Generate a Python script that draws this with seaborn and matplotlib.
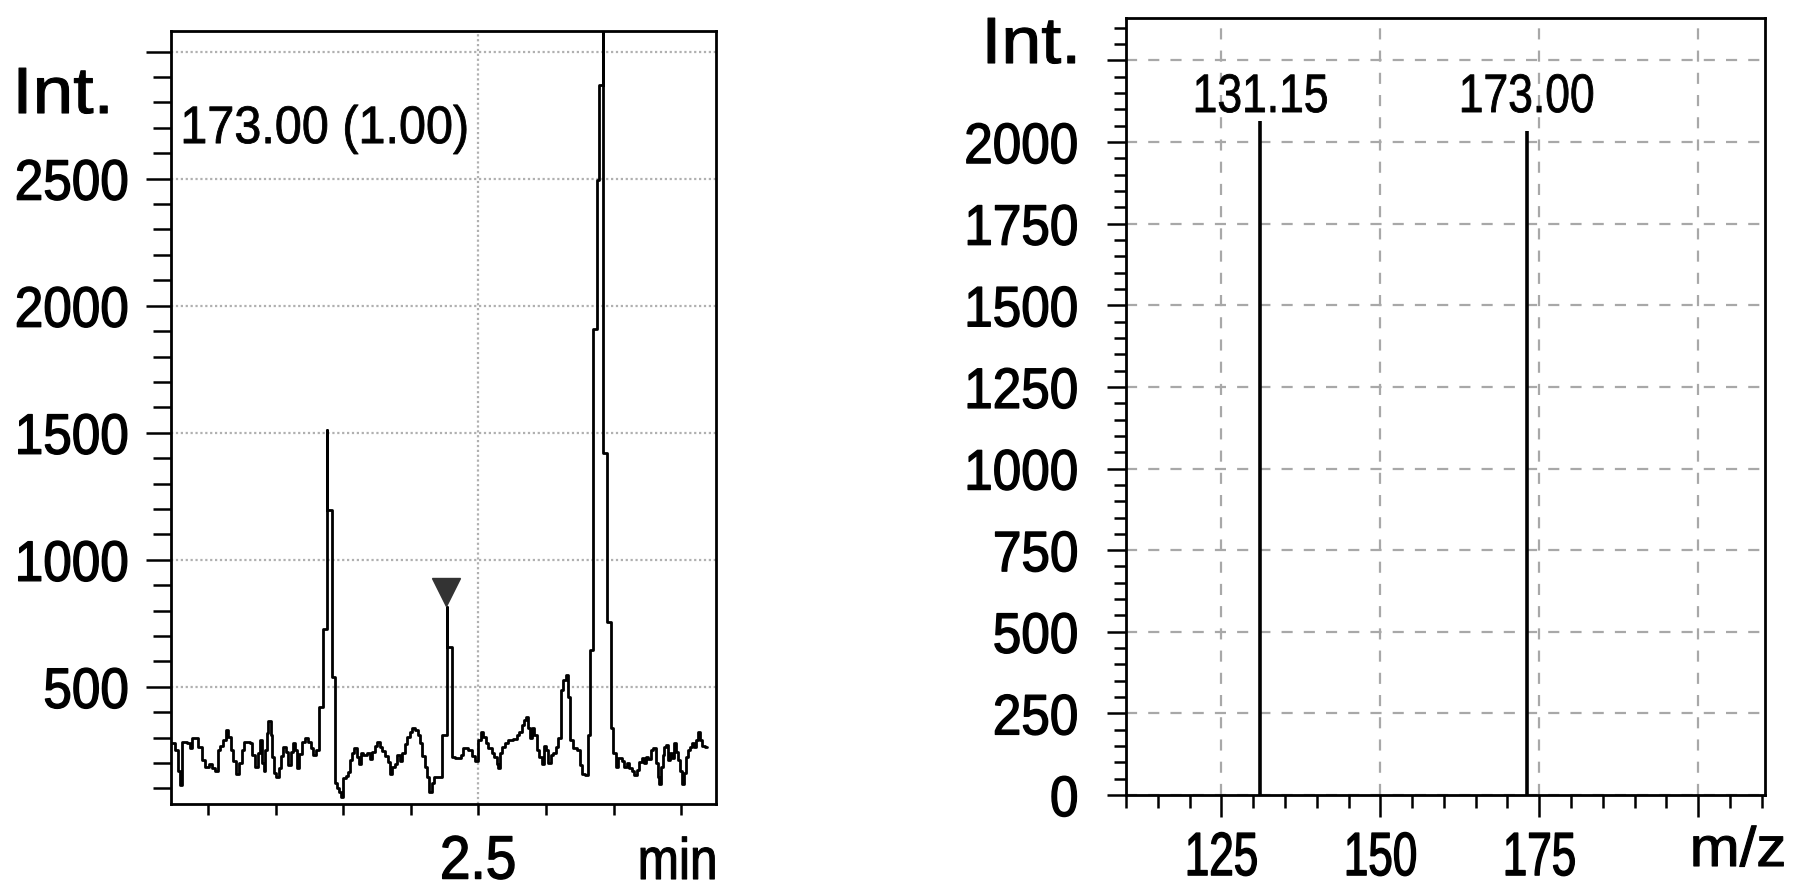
import numpy as np
import pandas as pd
import matplotlib
matplotlib.use("Agg")
import matplotlib.pyplot as plt
import seaborn as sns
from matplotlib import patheffects
from matplotlib.transforms import Affine2D

# chromatogram (m/z 173.00)
chrom_time = [
    2.0464, 2.0513, 2.0553, 2.0587, 2.0622, 2.0686, 2.0735, 2.0770, 2.0859, 2.0908,
    2.0957, 2.1016, 2.1066, 2.1105, 2.1145, 2.1184, 2.1228, 2.1263, 2.1302, 2.1342,
    2.1376, 2.1416, 2.1460, 2.1500, 2.1539, 2.1623, 2.1657, 2.1697, 2.1736, 2.1766,
    2.1795, 2.1825, 2.1850, 2.1869, 2.1894, 2.1933, 2.1953, 2.1983, 2.2012, 2.2047,
    2.2081, 2.2116, 2.2155, 2.2190, 2.2225, 2.2254, 2.2289, 2.2313, 2.2348, 2.2387,
    2.2436, 2.2486, 2.2525, 2.2560, 2.2600, 2.2644, 2.2707, 2.2757, 2.2762, 2.2831,
    2.2875, 2.2905, 2.2939, 2.2969, 2.3004, 2.3038, 2.3068, 2.3102, 2.3137, 2.3166,
    2.3201, 2.3235, 2.3260, 2.3299, 2.3349, 2.3398, 2.3433, 2.3473, 2.3507, 2.3542,
    2.3581, 2.3620, 2.3659, 2.3694, 2.3729, 2.3768, 2.3803, 2.3837, 2.3876, 2.3916,
    2.3950, 2.3990, 2.4024, 2.4064, 2.4103, 2.4138, 2.4172, 2.4212, 2.4241, 2.4271,
    2.4310, 2.4340, 2.4468, 2.4533, 2.4538, 2.4610, 2.4655, 2.4744, 2.4779, 2.4853,
    2.4902, 2.4952, 2.5001, 2.5035, 2.5075, 2.5109, 2.5149, 2.5198, 2.5237, 2.5272,
    2.5296, 2.5321, 2.5355, 2.5395, 2.5444, 2.5518, 2.5567, 2.5602, 2.5642, 2.5676,
    2.5701, 2.5730, 2.5765, 2.5799, 2.5829, 2.5864, 2.5898, 2.5937, 2.5972, 2.6001,
    2.6036, 2.6075, 2.6110, 2.6145, 2.6184, 2.6223, 2.6258, 2.6292, 2.6322, 2.6357,
    2.6406, 2.6455, 2.6504, 2.6539, 2.6578, 2.6618, 2.6652, 2.6698, 2.6754, 2.6791,
    2.6848, 2.6851, 2.6902, 2.6963, 2.6998, 2.7032, 2.7072, 2.7121, 2.7160, 2.7195,
    2.7229, 2.7269, 2.7308, 2.7343, 2.7377, 2.7417, 2.7446, 2.7476, 2.7515, 2.7555,
    2.7589, 2.7624, 2.7654, 2.7678, 2.7703, 2.7727, 2.7752, 2.7782, 2.7811, 2.7836,
    2.7870, 2.7900, 2.7930, 2.7959, 2.7989, 2.8018, 2.8047, 2.8077, 2.8107, 2.8136,
    2.8166, 2.8195, 2.8225, 2.8255, 2.8284, 2.8314, 2.8353, 2.8378,
]
chrom_int = [
    278, 252, 167, 114, 284, 278, 258, 298, 265, 212,
    186, 197, 180, 170, 252, 267, 291, 330, 301, 252,
    210, 157, 202, 252, 284, 278, 232, 184, 239, 291,
    199, 170, 252, 317, 366, 311, 225, 160, 144, 180,
    228, 265, 245, 193, 245, 278, 252, 180, 236, 284,
    300, 284, 258, 232, 252, 422, 726, 1509, 1195, 540,
    121, 101, 88, 68, 140, 150, 163, 212, 239, 258,
    225, 197, 239, 232, 239, 215, 245, 267, 284, 262,
    249, 228, 206, 157, 184, 197, 232, 210, 239, 275,
    304, 324, 339, 330, 311, 278, 228, 186, 147, 88,
    121, 144, 311, 815, 658, 225, 219, 232, 258, 252,
    228, 210, 291, 324, 304, 278, 258, 241, 225, 197,
    180, 239, 262, 278, 291, 294, 311, 324, 350, 370,
    380, 337, 298, 337, 311, 252, 225, 197, 267, 252,
    199, 232, 239, 265, 298, 488, 527, 546, 461, 291,
    258, 252, 193, 157, 153, 311, 645, 1910, 2495, 2867,
    3300, 1422, 757, 337, 239, 186, 219, 210, 186, 199,
    180, 167, 153, 173, 206, 219, 202, 225, 215, 252,
    258, 199, 147, 118, 186, 232, 265, 271, 212, 239,
    219, 278, 245, 212, 167, 118, 160, 225, 252, 265,
    278, 265, 291, 324, 291, 267, 265, 265,
]
marker_time = [2.4525]
marker_int = [873]
chrom_label = "173.00 (1.00)"
chrom_yticks = [500, 1000, 1500, 2000, 2500, 3000]
chrom_ylabels = ["500", "1000", "1500", "2000", "2500", ""]
chrom_xticks = [2.5]
chrom_xlabels = ["2.5"]

# mass spectrum
mz = [131.15, 173.00]
mz_int = [2066, 2034]
mz_labels = ["131.15", "173.00"]
ms_yticks = [0, 250, 500, 750, 1000, 1250, 1500, 1750, 2000, 2250]
ms_ylabels = ["0", "250", "500", "750", "1000", "1250", "1500", "1750", "2000", ""]
ms_xticks = [125, 150, 175, 200]
ms_xlabels = ["125", "150", "175", ""]


class Squeeze(patheffects.AbstractPathEffect):
    """Stretch/narrow the glyphs horizontally (the instrument font is condensed)."""

    def __init__(self, sx, anchor="left", stroke=0.0):
        super().__init__()
        self.sx = sx
        self.anchor = anchor
        self.stroke = stroke

    def draw_path(self, renderer, gc, tpath, affine, rgbFace=None):
        ext = tpath.get_extents()
        x0 = {"left": ext.x0, "right": ext.x1, "center": 0.5 * (ext.x0 + ext.x1)}[self.anchor]
        tr = Affine2D().translate(-x0, 0).scale(self.sx, 1).translate(x0, 0) + affine
        gc0 = renderer.new_gc()
        gc0.copy_properties(gc)
        if self.stroke > 0:
            gc0.set_linewidth(self.stroke)
            gc0.set_foreground(rgbFace)
        else:
            gc0.set_linewidth(0)
        renderer.draw_path(gc0, tpath, tr, rgbFace)
        gc0.restore()


sns.set_theme(style="white")
plt.rcParams["font.family"] = ["Liberation Sans", "DejaVu Sans"]
for key in ("text.color", "axes.labelcolor", "xtick.color", "ytick.color"):
    plt.rcParams[key] = "black"

fig = plt.figure(figsize=(17.95, 8.89), dpi=100)
ax1 = fig.add_axes([171 / 1795, 85 / 889, 545 / 1795, 773 / 889])
ax2 = fig.add_axes([1126 / 1795, 94 / 889, 639 / 1795, 777 / 889])

df = pd.DataFrame({"time": chrom_time, "intensity": chrom_int})
sns.lineplot(data=df, x="time", y="intensity", ax=ax1, color="black",
             lw=2, drawstyle="steps-post", estimator=None, sort=False)
ax1.plot(marker_time, marker_int, marker="v", ms=20, color="#333333",
         ls="none", zorder=5)

ax1.set_xlim(2.0454, 2.8516)
ax1.set_ylim(39, 3081)
ax1.set_yticks(chrom_yticks, chrom_ylabels)
ax1.set_yticks(np.arange(100, 3001, 100), minor=True)
ax1.set_xticks(chrom_xticks, chrom_xlabels)
ax1.set_xticks(np.arange(2.1, 2.85, 0.1), minor=True)
ax1.grid(True, which="major", color="#b0b0b0", lw=1.6, ls=(0, (1, 1.2)))
ax1.tick_params(axis="y", which="major", direction="out", length=18, width=1.8,
                left=True, labelsize=41, pad=12)
ax1.tick_params(axis="y", which="minor", direction="out", length=13, width=1.8, left=True)
ax1.tick_params(axis="x", which="both", direction="out", length=8, width=1.8,
                bottom=True, labelsize=44, pad=14)
ax1.set_xlabel("")
ax1.set_ylabel("")
ax1.text(0.0165, 0.855, chrom_label, transform=ax1.transAxes, fontsize=38,
         va="baseline", ha="left", path_effects=[Squeeze(0.92, "left", 0.6)])

# spectrum sticks
ax2.vlines(mz, 0, mz_int, color="black", lw=2.6, zorder=3)
for x, lab in zip(mz, mz_labels):
    ax2.text(x, 2092, lab, ha="center", va="baseline", fontsize=39,
             path_effects=[Squeeze(0.82, "center", 0.6)])
ax2.set_xlim(110, 210.5)
ax2.set_ylim(0, 2380)
ax2.set_yticks(ms_yticks, ms_ylabels)
ax2.set_yticks(np.arange(0, 2351, 50), minor=True)
ax2.set_xticks(ms_xticks, ms_xlabels)
ax2.set_xticks(np.arange(110, 211, 5), minor=True)
ax2.grid(True, which="major", color="#a8a8a8", lw=1.6, ls=(0, (5, 5)))
ax2.tick_params(axis="y", which="major", direction="out", length=14, width=1.8,
                left=True, labelsize=41, pad=20)
ax2.tick_params(axis="y", which="minor", direction="out", length=9, width=1.8, left=True)
ax2.tick_params(axis="x", which="major", direction="out", length=16, width=1.8,
                bottom=True, labelsize=44, pad=10)
ax2.tick_params(axis="x", which="minor", direction="out", length=9, width=1.8, bottom=True)

for ax, sx_x in ((ax1, 0.9), (ax2, 0.72)):
    for sp in ax.spines.values():
        sp.set_color("black")
        sp.set_linewidth(2)
    ax.set_facecolor("white")
    for lab in ax.get_yticklabels():
        lab.set_path_effects([Squeeze(0.9, "right", 1.0)])
    for lab in ax.get_xticklabels():
        lab.set_path_effects([Squeeze(sx_x, "center", 1.0)])

fig.text(13 / 1795, 1 - 113 / 889, "Int.", fontsize=47, ha="left", va="baseline",
         path_effects=[Squeeze(1.12, "left", 0.8)])
fig.text(982 / 1795, 1 - 63 / 889, "Int.", fontsize=47, ha="left", va="baseline",
         path_effects=[Squeeze(1.1, "left", 0.8)])
fig.text(718 / 1795, 1 - 879 / 889, "min", fontsize=42, ha="right", va="baseline",
         path_effects=[Squeeze(0.85, "right", 0.8)])
fig.text(1786 / 1795, 1 - 866 / 889, "m/z", fontsize=40, ha="right", va="baseline",
         path_effects=[Squeeze(1.08, "right", 0.8)])

fig.savefig("out.png", dpi=100, facecolor="white")
